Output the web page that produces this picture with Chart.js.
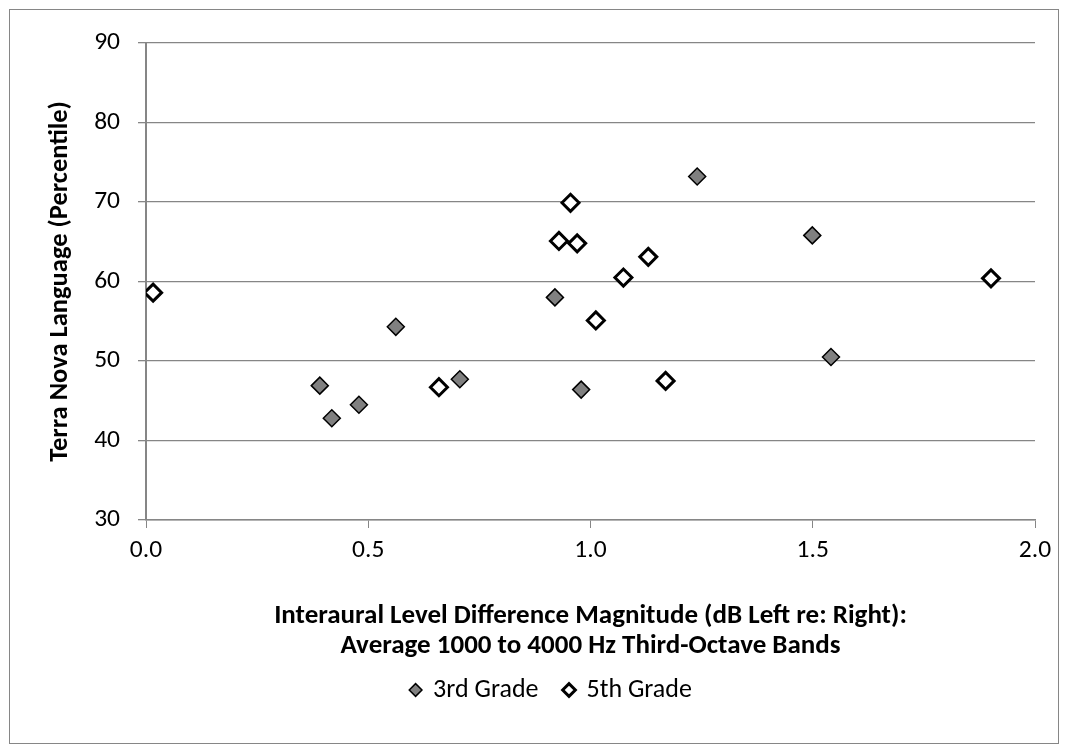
<!DOCTYPE html>
<html>
<head>
<meta charset="utf-8">
<script src="https://cdn.jsdelivr.net/npm/chart.js@4.4.1/dist/chart.umd.min.js"></script>
<style>
  html, body { margin: 0; padding: 0; background: #fff; }
  #wrap { position: relative; width: 1068px; height: 753px; }
</style>
</head>
<body>
<div id="wrap"><canvas id="ildChart"></canvas></div>
<script>
// values
const grade3X = [0.391, 0.418, 0.479, 0.562, 0.706, 0.920, 0.979, 1.240, 1.499, 1.541];
const grade3Y = [46.9, 42.8, 44.5, 54.3, 47.7, 58.0, 46.4, 73.2, 65.8, 50.5];
const grade5X = [0.016, 0.659, 0.929, 0.955, 0.970, 1.012, 1.074, 1.130, 1.169, 1.901];
const grade5Y = [58.6, 46.7, 65.1, 69.9, 64.8, 55.1, 60.5, 63.1, 47.5, 60.4];
const seriesNames = ["3rd Grade", "5th Grade"];
const xTitle = ["Interaural Level Difference Magnitude (dB Left re: Right):", "Average 1000 to 4000 Hz Third-Octave Bands"];
const yTitle = "Terra Nova Language (Percentile)";

const fontFamily = "Carlito, Calibri, 'Liberation Sans Narrow', Lato, sans-serif";
const gridGray = "#868686";

function toPoints(xs, ys) {
  return xs.map((x, i) => ({ x: x, y: ys[i] }));
}

// outer frame like the spreadsheet chart border,
// and nudge the legend a bit right as in the original
const frame = {
  id: "frame",
  afterLayout(chart) {
    chart.legend.left += 12;
    chart.legend.right += 12;
  },
  beforeDraw(chart) {
    const c = chart.ctx;
    c.save();
    c.strokeStyle = gridGray;
    c.lineWidth = 1;
    c.strokeRect(9.5, 9.5, 1049, 734);
    c.restore();
  }
};

const ctx = document.getElementById("ildChart").getContext("2d");

new Chart(ctx, {
  type: "scatter",
  data: {
    datasets: [{
      label: seriesNames[0],
      data: toPoints(grade3X, grade3Y),
      pointStyle: "rectRot",
      pointRadius: 8.5,
      backgroundColor: "#808080",
      borderColor: "#000",
      borderWidth: 1.5
    }, {
      label: seriesNames[1],
      data: toPoints(grade5X, grade5Y),
      pointStyle: "rectRot",
      pointRadius: 8.5,
      backgroundColor: "#fff",
      borderColor: "#000",
      borderWidth: 3
    }]
  },
  options: {
    responsive: true,
    maintainAspectRatio: false,
    animation: false,
    layout: { padding: { left: 44, top: 43, right: 33, bottom: 40 } },
    plugins: {
      tooltip: { enabled: false },
      legend: {
        position: "bottom",
        labels: {
          usePointStyle: true,
          boxWidth: 9,
          boxHeight: 9,
          padding: 26,
          color: "#000",
          font: { family: fontFamily, size: 26 }
        }
      }
    },
    scales: {
      x: {
        type: "linear",
        min: 0,
        max: 2,
        ticks: {
          stepSize: 0.5,
          padding: 7,
          color: "#000",
          font: { family: fontFamily, size: 25.5 },
          callback: v => v.toFixed(1)
        },
        grid: { drawOnChartArea: false, tickLength: 8, color: gridGray },
        border: { color: gridGray, width: 1.5 },
        title: {
          display: true,
          text: xTitle,
          color: "#000",
          padding: { top: 0, bottom: -10 },
          font: { family: fontFamily, size: 27, weight: "bold", lineHeight: 30 / 27 }
        },
        afterFit(scale) { scale.height = 131; }
      },
      y: {
        min: 30,
        max: 90,
        ticks: {
          stepSize: 10,
          padding: 18,
          color: "#000",
          font: { family: fontFamily, size: 25.5 }
        },
        grid: { tickLength: 8, color: gridGray, lineWidth: 1.3 },
        border: { color: gridGray, width: 2 },
        title: {
          display: true,
          text: yTitle,
          color: "#000",
          padding: { top: 0, bottom: 0 },
          font: { family: fontFamily, size: 26.5, weight: "bold" }
        },
        afterFit(scale) { scale.width = 102; }
      }
    }
  },
  plugins: [frame]
});
</script>
</body>
</html>
